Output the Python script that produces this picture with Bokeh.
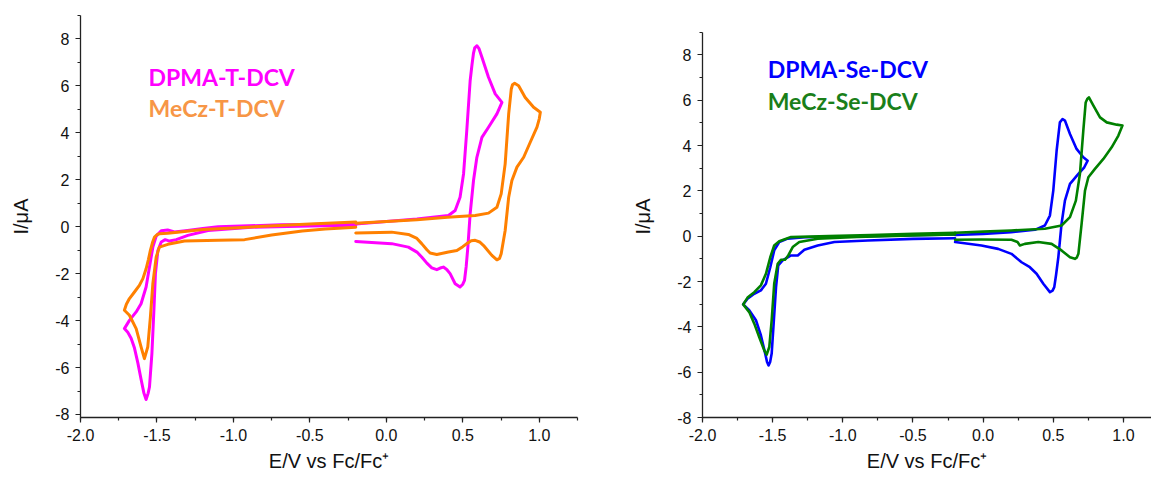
from bokeh.plotting import figure
from bokeh.layouts import row
from bokeh.models import SingleIntervalTicker, NumeralTickFormatter, Label, Range1d
from bokeh.embed import file_html
from bokeh.resources import INLINE

# ---------------- data (E / V vs Fc/Fc+, I / uA) ----------------
# Left panel: DPMA-T-DCV (magenta)
dpma_t_red_E = [-0.2, -0.5, -0.69, -0.9, -1.1, -1.2, -1.3, -1.385, -1.43, -1.472, -1.505, -1.527, -1.549, -1.571, -1.604, -1.636, -1.68, -1.713,
                -1.691, -1.669, -1.647, -1.625, -1.604, -1.586, -1.571, -1.558, -1.549, -1.533, -1.52, -1.51, -1.494, -1.472, -1.446, -1.418, -1.374, -1.298, -1.166, -0.883, -0.5, -0.2]
dpma_t_red_I = [0.13, 0.1, 0.08, 0.04, 0.0, -0.08, -0.16, -0.22, -0.14, -0.17, -0.4, -0.87, -1.72, -2.57, -3.28, -3.63, -3.99, -4.34,
                -4.5, -4.75, -5.17, -5.8, -6.5, -7.07, -7.36, -7.1, -6.83, -5.4, -3.56, -2.0, -1.01, -0.65, -0.55, -0.61, -0.55, -0.37, -0.16, -0.02, 0.03, 0.06]
dpma_t_ox_E = [-0.2, 0.035, 0.144, 0.2, 0.231, 0.265, 0.297, 0.33, 0.352, 0.373, 0.395, 0.417, 0.45, 0.482, 0.5, 0.511, 0.522, 0.533, 0.548, 0.57,
               0.592, 0.625, 0.668, 0.723, 0.756, 0.712, 0.668, 0.625, 0.605, 0.592, 0.578, 0.57, 0.56, 0.548, 0.526, 0.505, 0.482, 0.45, 0.406, 0.2, 0.0, -0.2]
dpma_t_ox_I = [-0.63, -0.72, -0.87, -1.08, -1.29, -1.55, -1.75, -1.83, -1.76, -1.72, -1.82, -2.0, -2.43, -2.57, -2.45, -2.29, -1.7, -0.87, 0.55, 1.97,
               2.96, 3.81, 4.24, 4.81, 5.3, 5.66, 6.37, 7.22, 7.6, 7.71, 7.62, 7.4, 6.9, 6.22, 4.1, 2.26, 1.26, 0.69, 0.48, 0.33, 0.22, 0.12]

# Left panel: MeCz-T-DCV (orange)
mecz_t_red_E = [-0.2, -0.5, -0.8, -1.0, -1.2, -1.35, -1.43, -1.484, -1.5, -1.516, -1.528, -1.543, -1.556, -1.571, -1.592, -1.615, -1.647, -1.68, -1.7, -1.713,
                -1.68, -1.636, -1.604, -1.582, -1.56, -1.543, -1.527, -1.505, -1.484, -1.429, -1.32, -1.1, -0.927, -0.75, -0.55, -0.4, -0.2]
mecz_t_red_I = [0.2, 0.12, 0.02, -0.05, -0.12, -0.22, -0.28, -0.3, -0.34, -0.44, -0.65, -1.01, -1.4, -1.79, -2.21, -2.5, -2.78, -3.06, -3.3, -3.56,
                -3.77, -4.34, -5.12, -5.62, -5.12, -3.85, -2.43, -1.29, -0.87, -0.75, -0.61, -0.58, -0.55, -0.35, -0.18, -0.1, -0.02]
mecz_t_ox_E = [-0.2, 0.035, 0.144, 0.2, 0.231, 0.265, 0.286, 0.33, 0.406, 0.461, 0.5, 0.526, 0.555, 0.581, 0.61, 0.636, 0.69, 0.723, 0.74, 0.751,
               0.777, 0.8, 0.821, 0.854, 0.898, 0.941, 0.985, 1.0, 1.007, 0.963, 0.908, 0.865, 0.839, 0.825, 0.817, 0.8, 0.777, 0.751, 0.723,
               0.668, 0.581, 0.4, 0.2, 0.0, -0.2]
mecz_t_ox_I = [-0.27, -0.23, -0.33, -0.5, -0.72, -0.98, -1.12, -1.18, -1.08, -1.01, -0.85, -0.72, -0.6, -0.58, -0.65, -0.8, -1.22, -1.41, -1.35, -1.15,
               -0.16, 1.26, 1.97, 2.54, 2.96, 3.6, 4.24, 4.6, 4.88, 5.09, 5.51, 6.01, 6.11, 6.05, 5.87, 4.81, 2.68, 1.4, 0.83,
               0.58, 0.48, 0.4, 0.3, 0.22, 0.15]

# Right panel: DPMA-Se-DCV (blue)
dpma_se_red_E = [-0.2, -0.5, -0.8, -1.0, -1.27, -1.393, -1.453, -1.489, -1.517, -1.548, -1.584, -1.631, -1.679, -1.71,
                 -1.667, -1.619, -1.584, -1.553, -1.54, -1.529, -1.518, -1.507, -1.493, -1.476, -1.46, -1.429, -1.369, -1.321, -1.274, -1.179, -1.06, -0.821, -0.5, -0.2]
dpma_se_red_I = [0.08, 0.04, 0.0, -0.02, -0.05, -0.11, -0.26, -0.63, -1.37, -2.1, -2.39, -2.54, -2.76, -3.01,
                 -3.27, -3.71, -4.37, -5.18, -5.55, -5.7, -5.55, -5.18, -3.86, -2.25, -1.29, -1.07, -0.85, -0.85, -0.6, -0.41, -0.26, -0.19, -0.12, -0.09]
dpma_se_ox_E = [-0.2, -0.012, 0.107, 0.202, 0.274, 0.333, 0.381, 0.429, 0.476, 0.495, 0.507, 0.52, 0.536, 0.559, 0.583, 0.619, 0.679, 0.721, 0.745,
                0.714, 0.666, 0.619, 0.583, 0.566, 0.547, 0.524, 0.5, 0.476, 0.44, 0.369, 0.2, 0.0, -0.2]
dpma_se_ox_I = [-0.26, -0.41, -0.56, -0.78, -1.15, -1.37, -1.66, -2.1, -2.47, -2.4, -2.25, -1.7, -0.93, 0.55, 1.57, 2.31, 2.75, 3.04, 3.33,
                3.48, 3.85, 4.51, 5.1, 5.17, 5.02, 3.78, 2.01, 0.91, 0.47, 0.28, 0.18, 0.1, 0.05]

# Right panel: MeCz-Se-DCV (green)
mecz_se_red_E = [-0.2, -0.5, -0.8, -1.1, -1.369, -1.453, -1.489, -1.517, -1.548, -1.584, -1.631, -1.679, -1.71,
                 -1.667, -1.631, -1.596, -1.56, -1.543, -1.524, -1.507, -1.489, -1.464, -1.441, -1.412, -1.389, -1.357, -1.31, -1.179, -0.9, -0.5, -0.2]
mecz_se_red_I = [0.15, 0.1, 0.05, 0.0, -0.04, -0.22, -0.41, -0.93, -1.66, -2.17, -2.47, -2.71, -3.01,
                 -3.35, -3.86, -4.45, -5.04, -5.23, -4.89, -3.71, -2.1, -1.22, -1.04, -1.04, -0.85, -0.48, -0.26, -0.11, -0.03, 0.03, 0.08]
mecz_se_ox_E = [-0.2, -0.012, 0.202, 0.245, 0.262, 0.297, 0.393, 0.488, 0.559, 0.619, 0.654, 0.667, 0.679, 0.702, 0.726, 0.75, 0.797, 0.857, 0.916,
                0.964, 0.993, 0.952, 0.881, 0.833, 0.786, 0.754, 0.742, 0.731, 0.714, 0.69, 0.661, 0.619, 0.559, 0.44, 0.2, 0.0, -0.2]
mecz_se_ox_I = [-0.16, -0.15, -0.16, -0.26, -0.41, -0.34, -0.26, -0.34, -0.63, -0.93, -1.0, -0.95, -0.78, 0.55, 2.01, 2.6, 2.97, 3.41, 3.92,
                4.44, 4.88, 4.92, 5.02, 5.24, 5.76, 6.12, 6.05, 5.9, 4.66, 2.75, 1.57, 0.84, 0.47, 0.33, 0.25, 0.2, 0.15]

left_labels = ["DPMA-T-DCV", "MeCz-T-DCV"]
right_labels = ["DPMA-Se-DCV", "MeCz-Se-DCV"]
x_label = "E/V vs Fc/Fc\u207a"
y_label = "I/\u03bcA"

FONT = "Liberation Sans"
AXIS_COLOR = "#222222"


def style(p):
    p.xgrid.visible = False
    p.ygrid.visible = False
    p.outline_line_color = None
    p.background_fill_color = "white"
    p.border_fill_color = "white"
    p.xaxis.ticker = SingleIntervalTicker(interval=0.5, num_minor_ticks=2)
    p.yaxis.ticker = SingleIntervalTicker(interval=2, num_minor_ticks=2)
    p.xaxis.formatter = NumeralTickFormatter(format="0.0")
    p.yaxis.formatter = NumeralTickFormatter(format="0")
    for ax in (p.xaxis[0], p.yaxis[0]):
        ax.axis_line_color = AXIS_COLOR
        ax.axis_line_width = 1.3
        ax.major_tick_line_color = AXIS_COLOR
        ax.minor_tick_line_color = AXIS_COLOR
        ax.major_tick_line_width = 1.2
        ax.minor_tick_line_width = 1.2
        ax.major_tick_in = 0
        ax.major_tick_out = 5
        ax.minor_tick_in = 0
        ax.minor_tick_out = 3
        ax.major_label_text_font = FONT
        ax.major_label_text_font_size = "16px"
        ax.major_label_text_color = "#111111"
        ax.major_label_standoff = 6
        ax.axis_label_text_font = FONT
        ax.axis_label_text_font_size = "20px"
        ax.axis_label_text_font_style = "normal"
        ax.axis_label_text_color = "#111111"
    p.xaxis.axis_label_standoff = 6
    p.yaxis.axis_label_standoff = 20


def legend_text(p, x, y, txt, color):
    p.add_layout(Label(x=x, y=y, text=txt, text_color=color, text_font="Lato",
                       text_font_style="bold", text_font_size="23px", text_baseline="middle"))


H = 478
# ---------------- left panel ----------------
p1 = figure(width=622, height=H, output_backend="svg", toolbar_location=None,
            x_range=Range1d(-2.0, 1.25), y_range=Range1d(-8.128, 9),
            min_border_left=80, min_border_right=45, min_border_top=15, min_border_bottom=61,
            x_axis_label=x_label, y_axis_label=y_label)
style(p1)
for E, I in ((dpma_t_red_E, dpma_t_red_I), (dpma_t_ox_E, dpma_t_ox_I)):
    p1.line(E, I, line_color="#FF00FF", line_width=3, line_join="round", line_cap="round")
for E, I in ((mecz_t_red_E, mecz_t_red_I), (mecz_t_ox_E, mecz_t_ox_I)):
    p1.line(E, I, line_color="#FF8000", line_width=3, line_join="round", line_cap="round")
legend_text(p1, -1.555, 6.40, left_labels[0], "#FF00FF")
legend_text(p1, -1.555, 5.06, left_labels[1], "#F79646")

# ---------------- right panel ----------------
p2 = figure(width=529, height=H, output_backend="svg", toolbar_location=None,
            x_range=Range1d(-2.0, 1.2), y_range=Range1d(-8, 9.736),
            min_border_left=80, min_border_right=0, min_border_top=15, min_border_bottom=61,
            x_axis_label=x_label, y_axis_label=y_label)
style(p2)
p2.yaxis.bounds = (-8, 9)
for E, I in ((dpma_se_red_E, dpma_se_red_I), (dpma_se_ox_E, dpma_se_ox_I)):
    p2.line(E, I, line_color="#0000FF", line_width=2.6, line_join="round", line_cap="round")
for E, I in ((mecz_se_red_E, mecz_se_red_I), (mecz_se_ox_E, mecz_se_ox_I)):
    p2.line(E, I, line_color="#008000", line_width=2.6, line_join="round", line_cap="round")
legend_text(p2, -1.535, 7.38, right_labels[0], "#0000FF")
legend_text(p2, -1.535, 5.98, right_labels[1], "#1A7F1A")

layout = row(p1, p2, spacing=0)
open("out.html", "w").write(file_html(layout, INLINE))
